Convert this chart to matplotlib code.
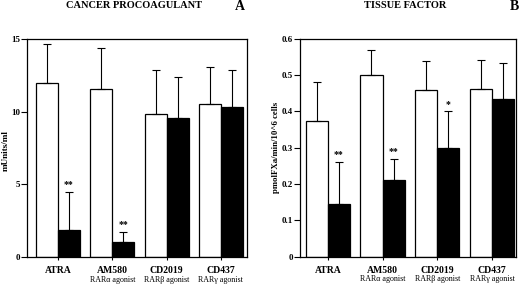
import numpy as np
import matplotlib
matplotlib.use("Agg")
import matplotlib.pyplot as plt

plt.rcParams['font.family'] = ['Liberation Serif', 'DejaVu Serif']

# treatments along the x axis
drugs = ["ATRA", "AM580", "CD2019", "CD437"]
subs = ["", "RAR\u03b1 agonist", "RAR\u03b2 agonist", "RAR\u03b3 agonist"]

# panel A - cancer procoagulant (mUnits/ml)
cp_ctrl = [12.0, 11.55, 9.85, 10.5]
cp_ctrl_err = [2.65, 2.85, 3.05, 2.55]
cp_trt = [1.85, 1.03, 9.55, 10.3]
cp_trt_err = [2.62, 0.69, 2.85, 2.55]
cp_stars = ["**", "**", "", ""]

# panel B - tissue factor (pmolFXa/min/10^6 cells)
tf_ctrl = [0.374, 0.50, 0.46, 0.462]
tf_ctrl_err = [0.106, 0.07, 0.08, 0.081]
tf_trt = [0.146, 0.21, 0.30, 0.434]
tf_trt_err = [0.114, 0.06, 0.10, 0.10]
tf_stars = ["**", "**", "*", ""]


def panel(ax, ctrl, ctrl_err, trt, trt_err, stars, yticks, ylim, xlim):
    x = np.arange(len(drugs))
    w = 0.405
    ax.bar(x - w / 2, ctrl, w, color="white", edgecolor="black", linewidth=0.9,
           yerr=[np.zeros(4), ctrl_err], error_kw=dict(ecolor="black", elinewidth=0.8, capsize=3, capthick=0.8))
    ax.bar(x + w / 2, trt, w, color="black", edgecolor="black", linewidth=0.9,
           yerr=[np.zeros(4), trt_err], error_kw=dict(ecolor="black", elinewidth=0.8, capsize=3, capthick=0.8))
    for i, s in enumerate(stars):
        if s:
            ax.annotate(s, (x[i] + w / 2, trt[i] + trt_err[i]), xytext=(0, 2),
                        textcoords="offset points", ha="center", va="bottom",
                        fontsize=7, fontweight="bold")
    ax.set_xlim(xlim)
    ax.set_ylim(ylim)
    ax.set_yticks(yticks)
    ax.set_yticklabels([f"{t:g}" if t != 0 else "0" for t in yticks], fontsize=6.5, fontweight="bold")
    ax.set_xticks(x)
    ax.set_xticklabels([""] * 4)
    ax.tick_params(axis="y", length=4, width=0.8, pad=1)
    ax.tick_params(axis="x", length=2, width=0.8)
    for sp in ax.spines.values():
        sp.set_linewidth(0.9)
    for i in range(4):
        ax.annotate(drugs[i], (x[i], 0), xycoords=("data", "axes fraction"), xytext=(0, -6.5),
                    textcoords="offset points", ha="center", va="top", fontsize=7, fontweight="bold")
        ax.annotate(subs[i], (x[i], 0), xycoords=("data", "axes fraction"), xytext=(0, -13.5),
                    textcoords="offset points", ha="center", va="top", fontsize=5.8)


fig = plt.figure(figsize=(5.2, 2.84), dpi=100)
axA = fig.add_axes([27 / 520, 27 / 284, 220 / 520, 218 / 284])
axB = fig.add_axes([300 / 520, 27.5 / 284, 216 / 520, 217.5 / 284])

panel(axA, cp_ctrl, cp_ctrl_err, cp_trt, cp_trt_err, cp_stars,
      [0, 5, 10, 15], (0, 15), (-0.57, 3.48))
panel(axB, tf_ctrl, tf_ctrl_err, tf_trt, tf_trt_err, tf_stars,
      [0, 0.1, 0.2, 0.3, 0.4, 0.5, 0.6], (0, 0.6), (-0.51, 3.44))

fig.text(134 / 520, 1 - 5.5 / 284, "CANCER PROCOAGULANT", ha="center", va="center", fontsize=7.5, fontweight="bold")
fig.text(240 / 520, 1 - 6 / 284, "A", ha="center", va="center", fontsize=10, fontweight="bold")
fig.text(405 / 520, 1 - 5.5 / 284, "TISSUE FACTOR", ha="center", va="center", fontsize=7.5, fontweight="bold")
fig.text(514 / 520, 1 - 6 / 284, "B", ha="center", va="center", fontsize=10, fontweight="bold")
fig.text(6 / 520, 1 - 151 / 284, "mUnits/ml", rotation=90, ha="center", va="center", fontsize=6.6, fontweight="bold")
fig.text(276 / 520, 1 - 147 / 284, "pmolFXa/min/10^6 cells", rotation=90, ha="center", va="center", fontsize=6.3, fontweight="bold")

fig.savefig("out.png", dpi=100)
